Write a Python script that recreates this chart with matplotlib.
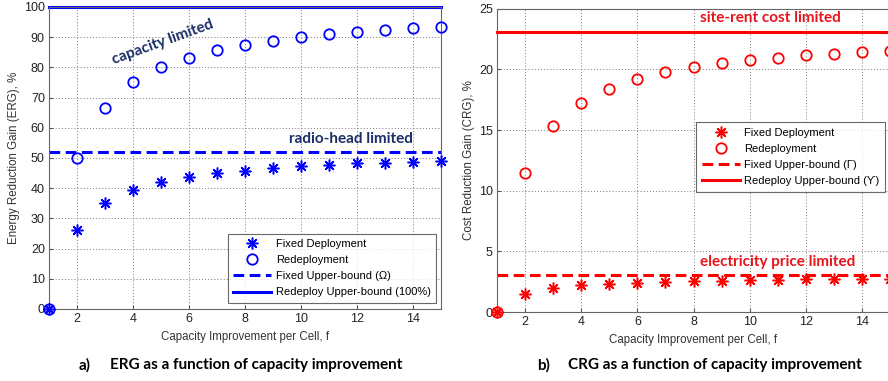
import matplotlib
matplotlib.use('Agg')
import matplotlib.pyplot as plt
import numpy as np

plt.rcParams['font.family'] = ['Liberation Sans', 'DejaVu Sans']

# capacity improvement per cell
f = [1, 2, 3, 4, 5, 6, 7, 8, 9, 10, 11, 12, 13, 14, 15]

# a) energy reduction gain, %
erg_fixed = [0, 26, 35, 39.3, 42, 43.8, 45, 45.8, 46.7, 47.3, 47.6, 48.2, 48.5, 48.8, 49.1]
erg_redeploy = [0, 50, 66.5, 75, 80, 83.2, 85.8, 87.5, 88.8, 90, 90.9, 91.7, 92.3, 92.9, 93.4]
erg_fixed_bound = 52
erg_redeploy_bound = 100

# b) cost reduction gain, %
crg_fixed = [0, 1.5, 1.95, 2.2, 2.3, 2.4, 2.5, 2.55, 2.55, 2.62, 2.65, 2.7, 2.7, 2.72, 2.75]
crg_redeploy = [0, 11.5, 15.3, 17.2, 18.4, 19.2, 19.75, 20.2, 20.5, 20.8, 20.95, 21.15, 21.3, 21.45, 21.55]
crg_fixed_bound = 3.05
crg_redeploy_bound = 23.05

xticks = [2, 4, 6, 8, 10, 12, 14]

fig = plt.figure(figsize=(8.88, 3.81), dpi=100)
ax1 = fig.add_axes([0.0552, 0.189, 0.4414, 0.7927])
ax2 = fig.add_axes([0.5597, 0.181, 0.4426, 0.796])

star = (8, 2, 0)
ann_font = ['Lato', 'DejaVu Sans']


def draw(ax, color, fixed, redeploy, fb, rb, ylim, yticks, ylabel, labels):
    ax.plot(f, fixed, linestyle='none', marker=star, markersize=8.5, markeredgewidth=1.1,
            color=color, markeredgecolor=color, label='Fixed Deployment', clip_on=False, zorder=5)
    ax.plot(f, redeploy, linestyle='none', marker='o', markersize=7.5, markeredgewidth=1.3,
            markerfacecolor='none', markeredgecolor=color, label='Redeployment', clip_on=False, zorder=5)
    ax.axhline(fb, color=color, linestyle=(0, (3.5, 1.8)), linewidth=2.2, label=labels[0])
    ax.axhline(rb, color=color, linestyle='-', linewidth=2.2, label=labels[1], clip_on=False)
    ax.set_xlim(1, 15)
    ax.set_ylim(*ylim)
    ax.set_xticks(xticks)
    ax.set_yticks(yticks)
    ax.grid(True, linestyle=(0, (1, 2.2)), color='#777777', linewidth=0.7)
    ax.tick_params(labelsize=9, length=3, color='#555555', direction='in', pad=3,
                   labelcolor='#222222')
    for s in ax.spines.values():
        s.set_color('#666666')
        s.set_linewidth(0.8)
    ax.set_xlabel('Capacity Improvement per Cell, f', fontsize=8.3, color='#333333', labelpad=4)
    ax.set_ylabel(ylabel, fontsize=8.3, color='#333333', labelpad=3)


draw(ax1, 'blue', erg_fixed, erg_redeploy, erg_fixed_bound, erg_redeploy_bound,
     (0, 100), range(0, 101, 10), 'Energy Reduction Gain (ERG), %',
     ['Fixed Upper-bound (Ω)', 'Redeploy Upper-bound (100%)'])
draw(ax2, 'red', crg_fixed, crg_redeploy, crg_fixed_bound, crg_redeploy_bound,
     (0, 25), range(0, 26, 5), 'Cost Reduction Gain (CRG), %',
     ['Fixed Upper-bound (Γ)', 'Redeploy Upper-bound (ϒ)'])

leg1 = ax1.legend(loc='lower right', bbox_to_anchor=(0.988, 0.02), fontsize=8, fancybox=False,
                  edgecolor='#444444', handlelength=3.4, borderpad=0.5, labelspacing=0.55,
                  handletextpad=0.4, borderaxespad=0)
leg1.get_frame().set_linewidth(0.8)
leg2 = ax2.legend(loc='upper right', bbox_to_anchor=(0.987, 0.625), fontsize=8, fancybox=False,
                  edgecolor='#444444', handlelength=3.4, borderpad=0.5, labelspacing=0.55,
                  handletextpad=0.4, borderaxespad=0)
leg2.get_frame().set_linewidth(0.8)

ax1.text(5.07, 88.4, 'capacity limited', fontsize=11, fontweight='bold', color='#1c2f66',
         rotation=20, ha='center', va='center', family=ann_font)
ax1.text(11.8, 56.4, 'radio-head limited', fontsize=11, fontweight='bold', color='#1c2f66',
         ha='center', va='center', family=ann_font)
ax2.text(10.75, 24.2, 'site-rent cost limited', fontsize=11, fontweight='bold', color='#e8141c',
         ha='center', va='center', family=ann_font)
ax2.text(11.0, 4.15, 'electricity price limited', fontsize=11, fontweight='bold', color='#e8141c',
         ha='center', va='center', family=ann_font)

fig.text(0.088, 0.042, 'a)', fontsize=11, fontweight='bold', family=ann_font, va='center')
fig.text(0.288, 0.042, 'ERG as a function of capacity improvement', fontsize=11, fontweight='bold',
         family=ann_font, ha='center', va='center')
fig.text(0.605, 0.042, 'b)', fontsize=11, fontweight='bold', family=ann_font, va='center')
fig.text(0.805, 0.042, 'CRG as a function of capacity improvement', fontsize=11, fontweight='bold',
         family=ann_font, ha='center', va='center')

fig.savefig('out.png', dpi=100)
